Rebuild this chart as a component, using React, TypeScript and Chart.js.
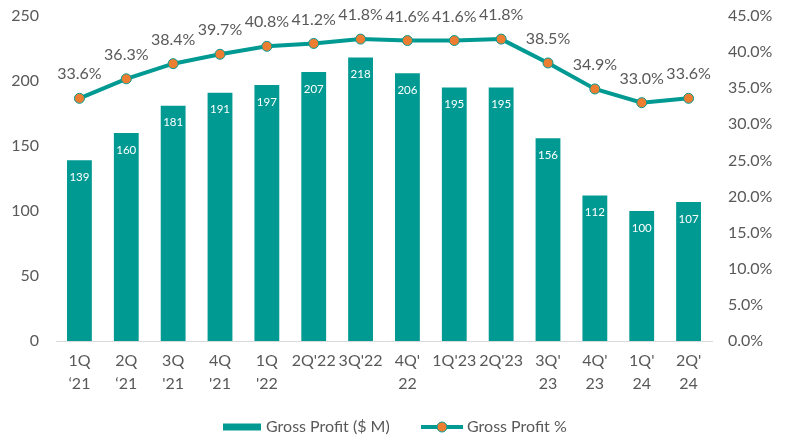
import React, { useEffect, useRef } from "react";
import { Chart, registerables } from "chart.js";

Chart.register(...registerables);

const categories: (string | string[])[] = [
  ["1Q", "‘21"],
  ["2Q", "‘21"],
  ["3Q", "'21"],
  ["4Q", "'21"],
  ["1Q", "'22"],
  "2Q'22",
  "3Q'22",
  ["4Q'", "22"],
  "1Q'23",
  "2Q'23",
  ["3Q'", "23"],
  ["4Q'", "23"],
  ["1Q'", "24"],
  ["2Q'", "24"],
];

const grossProfit = [139, 160, 181, 191, 197, 207, 218, 206, 195, 195, 156, 112, 100, 107];
const grossProfitPct = [33.6, 36.3, 38.4, 39.7, 40.8, 41.2, 41.8, 41.6, 41.6, 41.8, 38.5, 34.9, 33.0, 33.6];

const leftTicks = { min: 0, max: 250, step: 50 };
const rightTicks = { min: 0, max: 45, step: 5 };

const barLabel = "Gross Profit ($ M)";
const lineLabel = "Gross Profit %";

const TEAL = "#009A93";
const ORANGE = "#ED7D31";
const GRAY = "#595959";
const FONT = "Lato";

const labelsPlugin = {
  id: "customLabels",
  afterDatasetsDraw(chart: any) {
    const ctx = chart.ctx;
    ctx.save();
    const barMeta = chart.getDatasetMeta(0);
    ctx.font = `11.5px ${FONT}`;
    ctx.fillStyle = "#ffffff";
    ctx.textAlign = "center";
    ctx.textBaseline = "middle";
    barMeta.data.forEach((el: any, i: number) => {
      ctx.fillText(String(grossProfit[i]), el.x, el.y + 17);
    });
    const lineMeta = chart.getDatasetMeta(1);
    ctx.font = `16px ${FONT}`;
    ctx.fillStyle = GRAY;
    lineMeta.data.forEach((el: any, i: number) => {
      ctx.fillText(grossProfitPct[i].toFixed(1) + "%", el.x, el.y - 24);
    });
    ctx.restore();
  },
  afterDraw(chart: any) {
    const ctx = chart.ctx;
    ctx.save();
    const y = 427;
    ctx.fillStyle = TEAL;
    ctx.fillRect(223, y - 3.5, 38, 7);
    ctx.font = `16px ${FONT}`;
    ctx.fillStyle = GRAY;
    ctx.textAlign = "left";
    ctx.textBaseline = "middle";
    ctx.fillText(barLabel, 266, y);
    ctx.strokeStyle = TEAL;
    ctx.lineWidth = 4;
    ctx.beginPath();
    ctx.moveTo(421, y);
    ctx.lineTo(463, y);
    ctx.stroke();
    ctx.beginPath();
    ctx.arc(442, y, 5, 0, Math.PI * 2);
    ctx.fillStyle = ORANGE;
    ctx.fill();
    ctx.lineWidth = 1;
    ctx.strokeStyle = TEAL;
    ctx.stroke();
    ctx.fillStyle = GRAY;
    ctx.fillText(lineLabel, 467, y);
    ctx.restore();
  },
};

const zeroPad = (scale: any) => {
  scale.paddingTop = 0;
  scale.paddingBottom = 0;
  scale.paddingLeft = 0;
  scale.paddingRight = 0;
};

export default function App() {
  const ref = useRef<HTMLCanvasElement | null>(null);
  useEffect(() => {
    document.body.style.margin = "0";
    if (!ref.current) return;
    const chart = new Chart(ref.current, {
      type: "bar",
      data: {
        labels: categories as any,
        datasets: [
          {
            type: "bar",
            label: barLabel,
            data: grossProfit,
            backgroundColor: TEAL,
            yAxisID: "y",
            categoryPercentage: 1,
            barPercentage: 0.53,
            order: 2,
          },
          {
            type: "line",
            label: lineLabel,
            data: grossProfitPct,
            borderColor: TEAL,
            borderWidth: 4,
            pointRadius: 5,
            pointBackgroundColor: ORANGE,
            pointBorderColor: TEAL,
            pointBorderWidth: 1,
            yAxisID: "y1",
            tension: 0,
            order: 1,
          } as any,
        ],
      },
      options: {
        responsive: false,
        animation: false,
        layout: { padding: { top: 16, left: 0, right: 0, bottom: 0 } },
        plugins: { legend: { display: false }, tooltip: { enabled: false } },
        scales: {
          x: {
            grid: { display: false, drawTicks: false },
            border: { display: true, color: "#D9D9D9", width: 1 },
            ticks: {
              color: GRAY,
              font: { family: FONT, size: 16, lineHeight: 1.4 },
              maxRotation: 0,
              autoSkip: false,
              padding: 9,
            },
            afterFit(scale: any) {
              scale.height = 101;
              zeroPad(scale);
            },
          },
          y: {
            position: "left",
            min: leftTicks.min,
            max: leftTicks.max,
            grid: { display: false, drawTicks: false },
            border: { display: false },
            ticks: {
              stepSize: leftTicks.step,
              color: GRAY,
              font: { family: FONT, size: 16 },
              padding: 17,
            },
            afterFit(scale: any) {
              scale.width = 56;
              zeroPad(scale);
            },
          },
          y1: {
            position: "right",
            min: rightTicks.min,
            max: rightTicks.max,
            grid: { display: false, drawTicks: false },
            border: { display: false },
            ticks: {
              stepSize: rightTicks.step,
              color: GRAY,
              font: { family: FONT, size: 16 },
              padding: 16,
              callback: (v: any) => Number(v).toFixed(1) + "%",
            },
            afterFit(scale: any) {
              scale.width = 79;
              zeroPad(scale);
            },
          },
        },
      },
      plugins: [labelsPlugin],
    });
    return () => chart.destroy();
  }, []);
  return <canvas ref={ref} width={791} height={442} />;
}
